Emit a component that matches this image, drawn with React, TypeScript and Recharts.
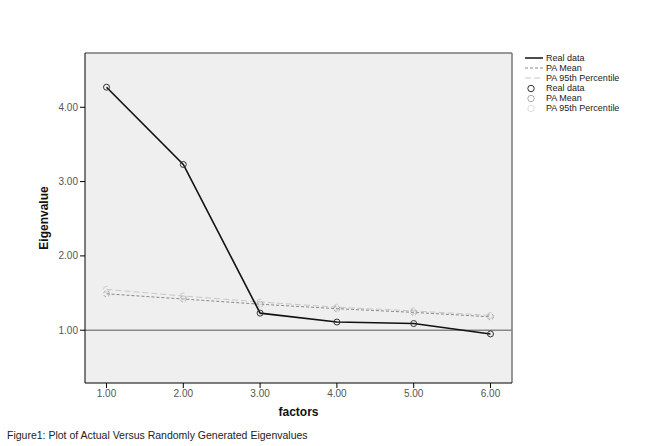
import { ComposedChart, Line, XAxis, YAxis, CartesianGrid, ReferenceLine } from 'recharts';

const factors = [1, 2, 3, 4, 5, 6];
const realData = [4.27, 3.23, 1.23, 1.11, 1.09, 0.95];
const paMean = [1.49, 1.42, 1.35, 1.29, 1.24, 1.18];
const pa95 = [1.55, 1.46, 1.38, 1.31, 1.26, 1.20];
const xTicks = [1, 2, 3, 4, 5, 6];
const yTicks = [1, 2, 3, 4];

const data = factors.map((f, i) => ({ factor: f, real: realData[i], mean: paMean[i], p95: pa95[i] }));

const font = '"Liberation Sans", Arial, sans-serif';

function LegendBox() {
  const row = { display: 'flex', alignItems: 'center', height: 10 };
  const label = { marginLeft: 3 };
  return (
    <div style={{ fontFamily: font, fontSize: 9, color: '#222', lineHeight: '10px' }}>
      <div style={row}><svg width={18} height={6}><line x1={0} y1={3} x2={18} y2={3} stroke="#111" strokeWidth={1.5} /></svg><span style={label}>Real data</span></div>
      <div style={row}><svg width={18} height={6}><line x1={0} y1={3} x2={18} y2={3} stroke="#888" strokeDasharray="3 2" /></svg><span style={label}>PA Mean</span></div>
      <div style={row}><svg width={18} height={6}><line x1={0} y1={3} x2={18} y2={3} stroke="#c8c8c8" strokeDasharray="6 3" /></svg><span style={label}>PA 95th Percentile</span></div>
      <div style={row}><svg width={18} height={9}><circle cx={6} cy={4.5} r={3.2} fill="none" stroke="#333" /></svg><span style={label}>Real data</span></div>
      <div style={row}><svg width={18} height={9}><circle cx={6} cy={4.5} r={3.2} fill="none" stroke="#aaa" /></svg><span style={label}>PA Mean</span></div>
      <div style={row}><svg width={18} height={9}><circle cx={6} cy={4.5} r={3.2} fill="none" stroke="#ddd" /></svg><span style={label}>PA 95th Percentile</span></div>
    </div>
  );
}

export default function App() {
  return (
    <div style={{ position: 'absolute', left: 0, top: 0, width: 668, height: 446, background: '#fff' }}>
      <ComposedChart width={668} height={446} data={data} margin={{ top: 53, right: 156, bottom: 0, left: 0 }}>
        <CartesianGrid fill="#efefef" horizontal={false} vertical={false} />
        <XAxis
          dataKey="factor"
          type="number"
          domain={[0.72, 6.28]}
          ticks={xTicks}
          tickFormatter={(v: number) => v.toFixed(2)}
          height={63}
          stroke="#000"
          tickSize={5}
          tick={{ fill: '#555', fontSize: 10, fontFamily: font }}
          label={{ value: 'factors', position: 'insideBottom', offset: 30, style: { fill: '#111', fontWeight: 'bold', fontSize: 12, fontFamily: font } }}
        />
        <YAxis
          type="number"
          domain={[0.29, 4.73]}
          ticks={yTicks}
          tickFormatter={(v: number) => v.toFixed(2)}
          width={85}
          stroke="#000"
          tickSize={5}
          tick={{ fill: '#555', fontSize: 10, fontFamily: font }}
          label={{ value: 'Eigenvalue', angle: -90, position: 'insideLeft', offset: 44, style: { fill: '#111', fontWeight: 'bold', fontSize: 12, fontFamily: font, textAnchor: 'middle' } }}
        />
        <ReferenceLine y={4.73} stroke="#777" strokeWidth={1.5} />
        <ReferenceLine x={6.28} stroke="#777" strokeWidth={1.5} />
        <ReferenceLine y={1} stroke="#888" strokeWidth={1.5} />
        <Line dataKey="p95" stroke="#c8c8c8" strokeWidth={1} strokeDasharray="6 3" dot={{ r: 3, stroke: '#ccc', fill: 'none' }} isAnimationActive={false} />
        <Line dataKey="mean" stroke="#888" strokeWidth={1} strokeDasharray="3 2" dot={{ r: 3, stroke: '#aaa', fill: 'none' }} isAnimationActive={false} />
        <Line dataKey="real" stroke="#111" strokeWidth={1.6} dot={{ r: 3, stroke: '#333', fill: 'none', strokeWidth: 1 }} isAnimationActive={false} />
      </ComposedChart>
      <div style={{ position: 'absolute', left: 525, top: 53 }}>
        <LegendBox />
      </div>
      <div style={{ position: 'absolute', left: 7, top: 429, fontFamily: font, fontSize: 10.5, color: '#222' }}>
        Figure1: Plot of Actual Versus Randomly Generated Eigenvalues
      </div>
    </div>
  );
}
